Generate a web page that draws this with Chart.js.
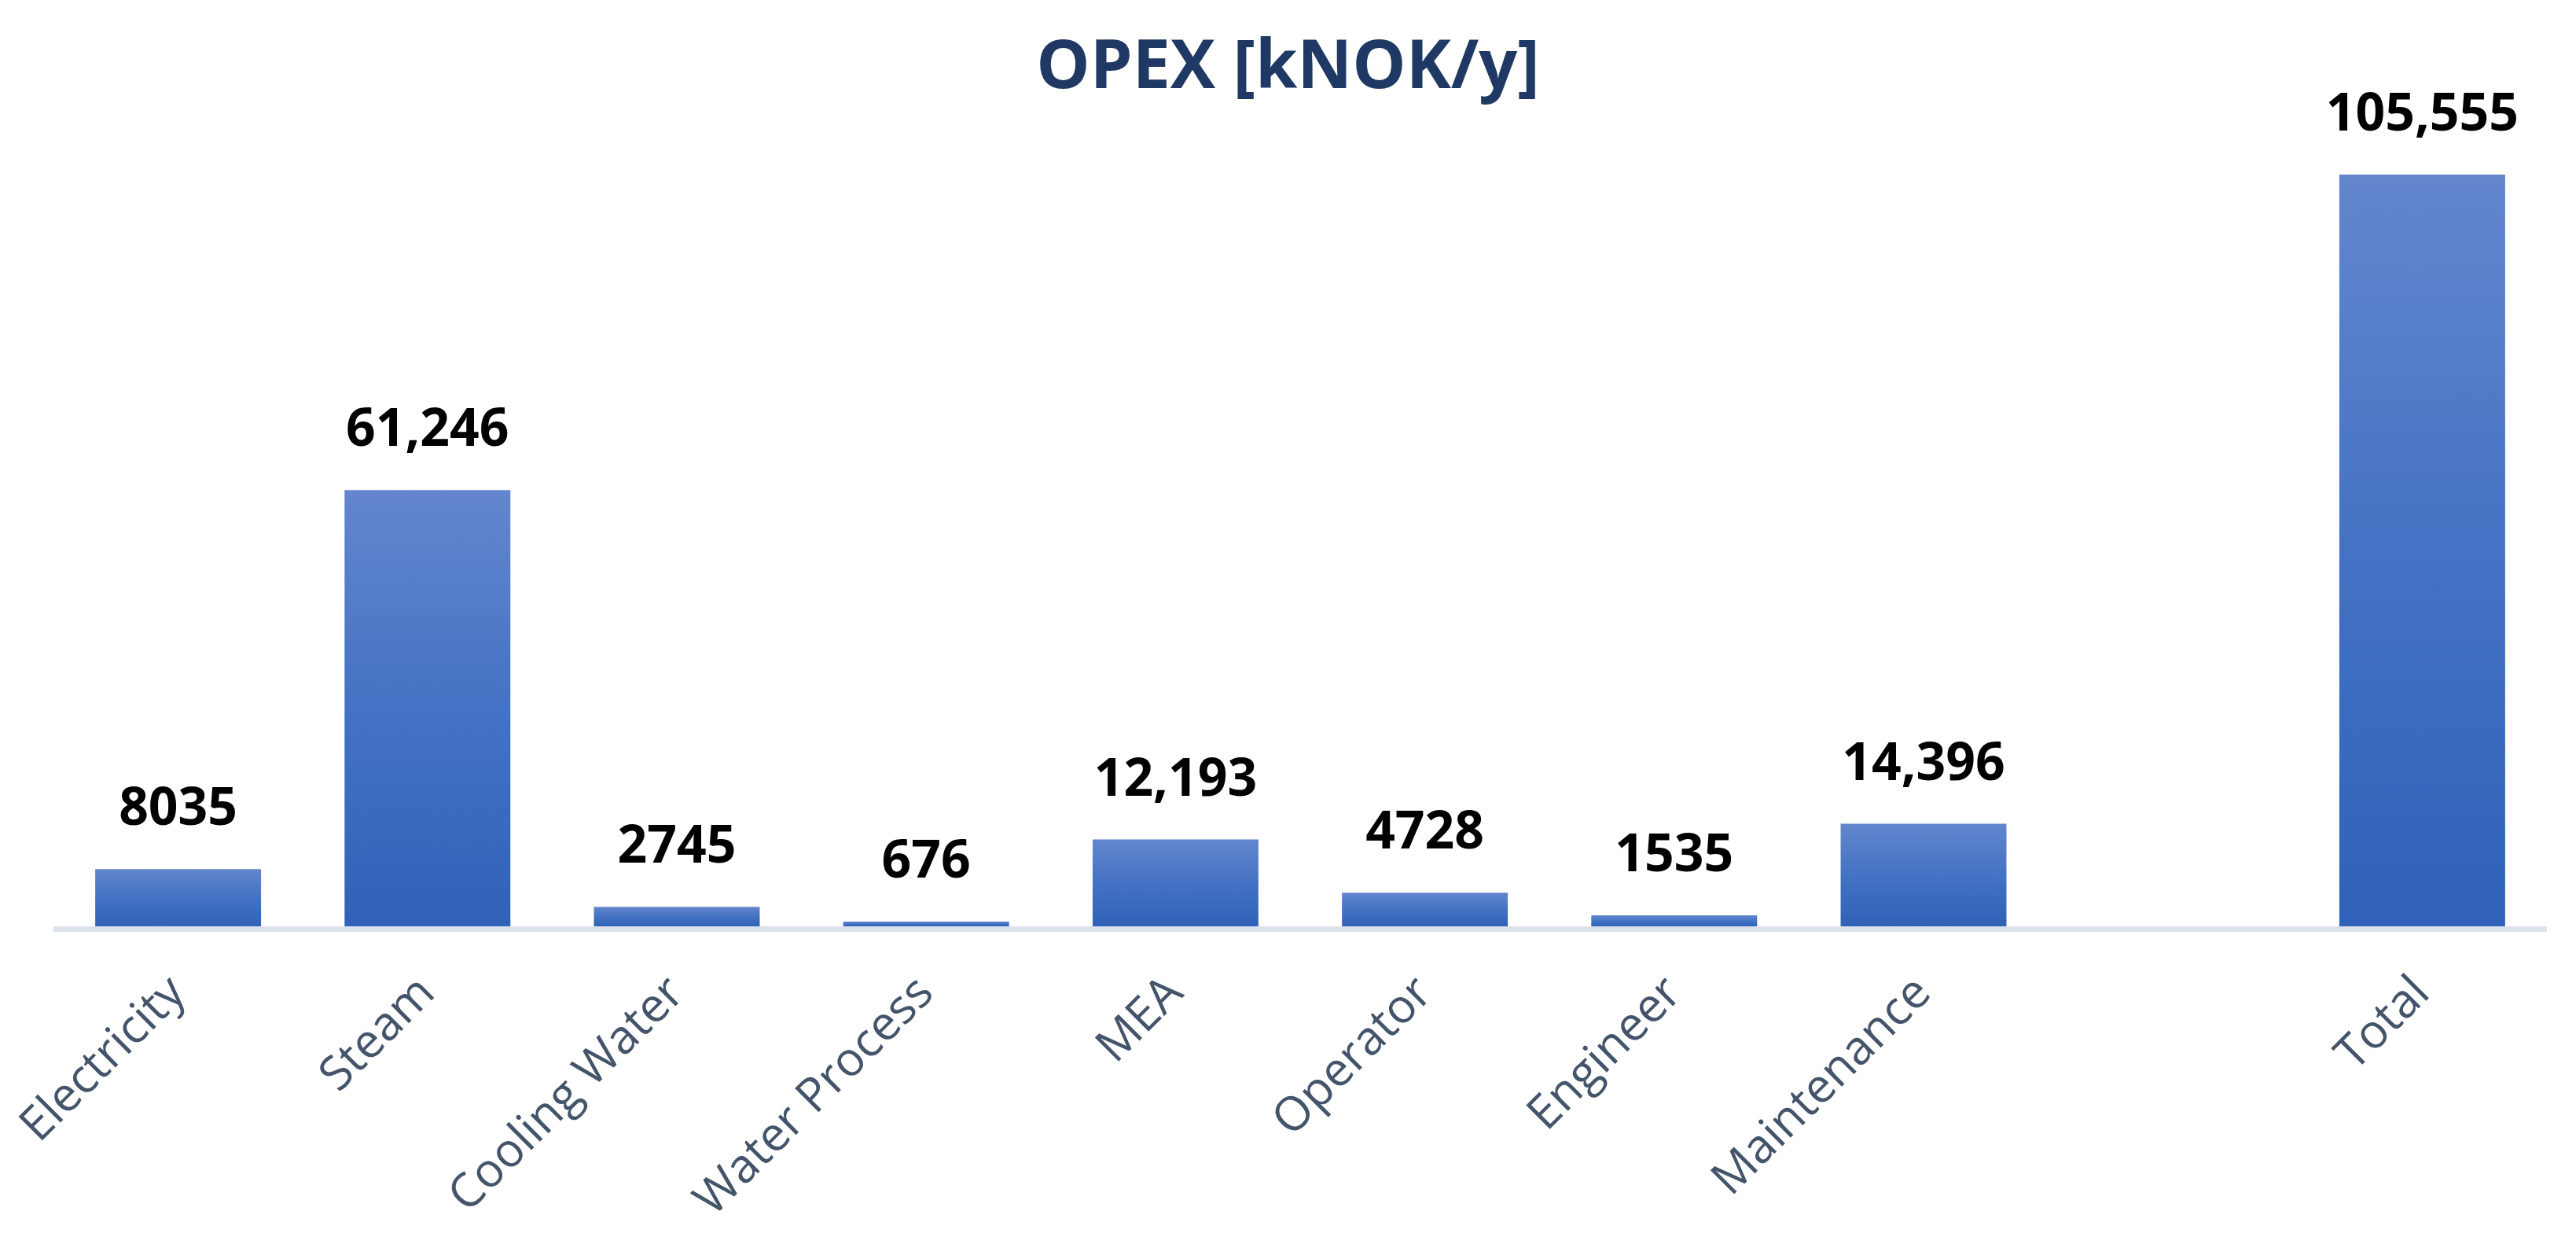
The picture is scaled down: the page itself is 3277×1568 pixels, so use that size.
<!DOCTYPE html>
<html>
<head>
<meta charset="utf-8">
<script src="https://cdn.jsdelivr.net/npm/chart.js@4/dist/chart.umd.min.js"></script>
<style>
  html, body { margin: 0; padding: 0; background: #ffffff; }
  #wrap { width: 3277px; height: 1568px; }
</style>
</head>
<body>
<div id="wrap"><canvas id="c" width="3277" height="1568"></canvas></div>
<script>
const categories = ['Electricity', 'Steam', 'Cooling Water', 'Water Process', 'MEA', 'Operator', 'Engineer', 'Maintenance', '', 'Total'];
const values = [8035, 61246, 2745, 676, 12193, 4728, 1535, 14396, null, 105555];
const valueLabels = ['8035', '61,246', '2745', '676', '12,193', '4728', '1535', '14,396', '', '105,555'];
const chartTitle = 'OPEX [kNOK/y]';

function barGradient(ctx) {
  const chart = ctx.chart;
  if (!chart.chartArea || !chart.scales.y) return '#4472c4';
  const v = ctx.raw;
  if (v === null || v === undefined) return '#4472c4';
  const yTop = chart.scales.y.getPixelForValue(v);
  const yBot = chart.scales.y.getPixelForValue(0);
  if (!isFinite(yTop) || !isFinite(yBot) || Math.abs(yBot - yTop) < 1) return '#4f7ac8';
  const g = chart.ctx.createLinearGradient(0, yTop, 0, yBot);
  g.addColorStop(0, '#6386cd');
  g.addColorStop(0.5, '#4472c4');
  g.addColorStop(1, '#2f62b8');
  return g;
}

const axisLinePlugin = {
  id: 'axisLine',
  beforeDatasetsDraw(chart) {
    const { ctx, chartArea } = chart;
    ctx.save();
    ctx.fillStyle = '#dde1e9';
    ctx.fillRect(chartArea.left, chartArea.bottom, chartArea.right - chartArea.left, 7);
    ctx.restore();
  }
};

const valueLabelPlugin = {
  id: 'valueLabels',
  afterDatasetsDraw(chart) {
    const { ctx } = chart;
    const meta = chart.getDatasetMeta(0);
    ctx.save();
    ctx.font = 'bold 66px "Open Sans"';
    ctx.fillStyle = '#000000';
    ctx.textAlign = 'center';
    ctx.textBaseline = 'alphabetic';
    meta.data.forEach((el, i) => {
      if (values[i] === null || values[i] === undefined) return;
      ctx.fillText(valueLabels[i], el.x, el.y - 56);
    });
    ctx.restore();
  }
};

const titlePlugin = {
  id: 'centeredTitle',
  afterDraw(chart) {
    const { ctx } = chart;
    ctx.save();
    ctx.font = 'bold 86px "Open Sans"';
    ctx.fillStyle = '#1f3864';
    ctx.textAlign = 'center';
    ctx.textBaseline = 'alphabetic';
    ctx.fillText(chartTitle, chart.width / 2, 112);
    ctx.restore();
  }
};

new Chart(document.getElementById('c'), {
  type: 'bar',
  data: {
    labels: categories,
    datasets: [{
      data: values,
      backgroundColor: barGradient,
      borderWidth: 0,
      barPercentage: 1,
      categoryPercentage: 0.665
    }]
  },
  options: {
    responsive: false,
    animation: false,
    devicePixelRatio: 1,
    layout: { padding: { left: 68, right: 37, top: 145.5, bottom: 0 } },
    plugins: {
      legend: { display: false },
      tooltip: { enabled: false },
      title: { display: false }
    },
    scales: {
      x: {
        grid: { display: false, drawTicks: false },
        border: { display: false },
        ticks: {
          color: '#44546a',
          font: { family: 'Open Sans', size: 60 },
          minRotation: 45,
          maxRotation: 45,
          autoSkip: false,
          padding: 50
        },
        afterFit(scale) {
          scale.height = 390;
          scale.paddingLeft = 0;
          scale.paddingRight = 0;
        }
      },
      y: {
        display: false,
        min: 0,
        max: 114000
      }
    }
  },
  plugins: [axisLinePlugin, valueLabelPlugin, titlePlugin]
});
</script>
</body>
</html>
